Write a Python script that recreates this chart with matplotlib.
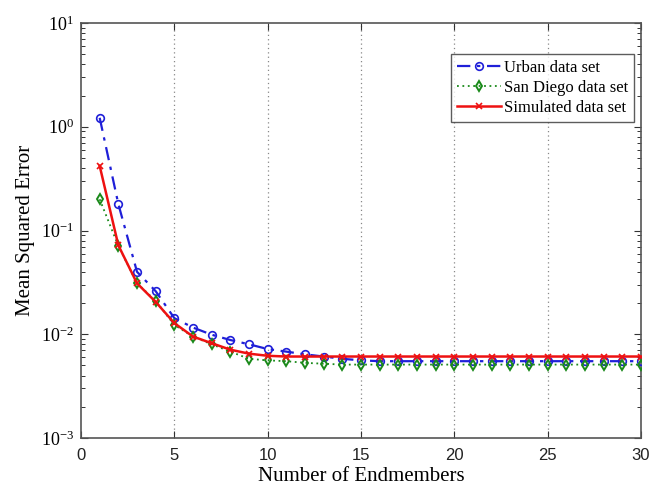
import math
import matplotlib
matplotlib.use("Agg")
import matplotlib.pyplot as plt
from matplotlib.ticker import LogLocator, NullFormatter, FixedLocator, FuncFormatter

plt.rcParams["mathtext.fontset"] = "custom"
plt.rcParams["mathtext.rm"] = "Liberation Serif"
plt.rcParams["mathtext.it"] = "Liberation Serif:italic"
plt.rcParams["mathtext.bf"] = "Liberation Serif:bold"
plt.rcParams["axes.unicode_minus"] = False

endmembers = list(range(1, 31))
urban = [1.22, 0.18, 0.040, 0.026, 0.0143, 0.0116, 0.0099, 0.0088, 0.0080, 0.0072,
         0.0068, 0.0064, 0.0061, 0.0058, 0.0056, 0.0055, 0.0055, 0.0055, 0.0055, 0.0055,
         0.0055, 0.0055, 0.0055, 0.0055, 0.0055, 0.0055, 0.0055, 0.0055, 0.0055, 0.0055]
san_diego = [0.20, 0.071, 0.031, 0.021, 0.0123, 0.0095, 0.0080, 0.0068, 0.0058, 0.0056,
             0.0055, 0.0053, 0.0052, 0.0051, 0.0051, 0.0051, 0.0051, 0.0051, 0.0051, 0.0051,
             0.0051, 0.0051, 0.0051, 0.0051, 0.0051, 0.0051, 0.0051, 0.0051, 0.0051, 0.0051]
simulated = [0.42, 0.072, 0.031, 0.0205, 0.0128, 0.0095, 0.0082, 0.0071, 0.0065, 0.0062,
             0.0061, 0.0061, 0.0061, 0.0061, 0.0061, 0.0061, 0.0061, 0.0061, 0.0061, 0.0061,
             0.0061, 0.0061, 0.0061, 0.0061, 0.0061, 0.0061, 0.0061, 0.0061, 0.0061, 0.0061]
x_ticks = [0, 5, 10, 15, 20, 25, 30]
x_grid = [5, 10, 15, 20, 25]

serif = "Liberation Serif"

fig = plt.figure(figsize=(6.59, 4.91), dpi=100)
ax = fig.add_axes([81/659, 1-438/491, 560/659, 415/491])

ax.plot(endmembers, urban, color="#1f1fd8", linestyle=(0, (6, 3, 1.5, 3)), linewidth=1.6,
        marker="o", markersize=5.5, markerfacecolor="none", markeredgecolor="#1f1fd8",
        markeredgewidth=1.2, label="Urban data set", zorder=3)
ax.plot(endmembers, san_diego, color="#1a8a1a", linestyle=(0, (1, 2)), linewidth=1.3,
        marker="d", markersize=5.5, markerfacecolor="none", markeredgecolor="#1a8a1a",
        markeredgewidth=1.4, label="San Diego data set", zorder=3)
ax.plot(endmembers, simulated, color="#ee1111", linestyle="-", linewidth=1.8,
        marker="x", markersize=4, markeredgewidth=1.2, label="Simulated data set", zorder=4)

ax.set_yscale("log")
ax.set_xlim(0, 30)
ax.set_ylim(1e-3, 1e1)
ax.xaxis.set_major_locator(FixedLocator(x_ticks))
ax.yaxis.set_major_locator(LogLocator(base=10, numticks=10))
ax.yaxis.set_major_formatter(FuncFormatter(
    lambda v, p: r"$\mathregular{10^{%d}}$" % round(math.log10(v))))
ax.yaxis.set_minor_locator(LogLocator(base=10, subs=range(2, 10), numticks=20))
ax.yaxis.set_minor_formatter(NullFormatter())

for xv in x_grid:
    ax.axvline(xv, color="#888888", linestyle=(0, (1, 2.5)), linewidth=0.9, zorder=1)

ax.tick_params(which="both", direction="in", top=True, right=True, color="#333333")
ax.tick_params(which="major", length=5, width=0.8)
ax.tick_params(which="minor", length=3, width=0.7)
ax.tick_params(axis="x", labelsize=12, pad=7)
ax.tick_params(axis="y", labelsize=13, pad=5)
for lab in ax.get_yticklabels():
    lab.set_fontfamily(serif)
for lab in ax.get_xticklabels():
    lab.set_fontfamily("Liberation Sans")
    lab.set_color("#222222")

for sp in ax.spines.values():
    sp.set_color("#555555")
    sp.set_linewidth(1.2)

ax.set_xlabel("Number of Endmembers", fontsize=15, family=serif, labelpad=3)
ax.set_ylabel("Mean Squared Error", fontsize=15, family=serif, labelpad=4)

leg = ax.legend(loc="upper right", bbox_to_anchor=(0.9875, 0.925), prop={"family": serif, "size": 12},
                frameon=True, fancybox=False, edgecolor="#333333", handlelength=2.6,
                handletextpad=0.2, borderpad=0.35, labelspacing=0.25, borderaxespad=0)
leg.get_frame().set_linewidth(1.0)

fig.savefig("out.png", dpi=100)
